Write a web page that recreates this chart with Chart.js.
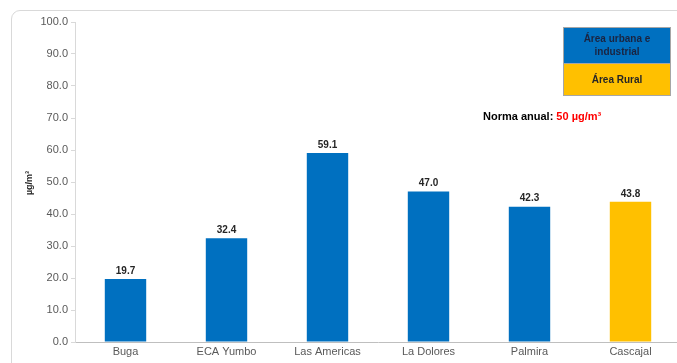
<!DOCTYPE html>
<html>
<head>
<meta charset="utf-8">
<script src="https://cdn.jsdelivr.net/npm/chart.js@4"></script>
<style>
html, body { margin: 0; padding: 0; width: 677px; height: 363px; overflow: hidden; background: #fff; }
#frame { position: absolute; left: 11px; top: 10px; width: 700px; height: 400px; border: 1px solid #d9d9d9; border-radius: 9px; }
#wrap { position: absolute; left: 0; top: 0; width: 682px; height: 363px; }
</style>
</head>
<body>
<div id="frame"></div>
<div id="wrap"><canvas id="chart"></canvas></div>
<script>
const categories = ['Buga', 'ECA Yumbo', 'Las Americas', 'La Dolores', 'Palmira', 'Cascajal'];
const values = [19.7, 32.4, 59.1, 47.0, 42.3, 43.8];
const areaType = ['urbana', 'urbana', 'urbana', 'urbana', 'urbana', 'rural'];
const yTicks = [0, 10, 20, 30, 40, 50, 60, 70, 80, 90, 100];

const BLUE = '#0070C0';
const GOLD = '#FFC000';
const FONT = '"Liberation Sans", Arial, sans-serif';

// value labels above each bar
const valueLabels = {
    id: 'valueLabels',
    afterDatasetsDraw(chart) {
        const ctx = chart.ctx;
        const meta = chart.getDatasetMeta(0);
        ctx.save();
        ctx.font = 'bold 10px ' + FONT;
        ctx.fillStyle = '#262626';
        ctx.textAlign = 'center';
        ctx.textBaseline = 'bottom';
        meta.data.forEach((bar, i) => {
            ctx.fillText(values[i].toFixed(1), bar.x, bar.y - 3);
        });
        ctx.restore();
    }
};

// axis title, legend box and annual limit note
const extras = {
    id: 'extras',
    afterDraw(chart) {
        const ctx = chart.ctx;
        ctx.save();

        // y axis title
        ctx.translate(30, 183);
        ctx.rotate(-Math.PI / 2);
        ctx.font = 'bold 9px ' + FONT;
        ctx.fillStyle = '#262626';
        ctx.textAlign = 'center';
        ctx.textBaseline = 'middle';
        ctx.fillText('µg/m³', 0, 0);
        ctx.setTransform(1, 0, 0, 1, 0, 0);

        // legend box
        ctx.fillStyle = BLUE;
        ctx.fillRect(563, 27, 108, 36);
        ctx.fillStyle = GOLD;
        ctx.fillRect(563, 63, 108, 33);
        ctx.strokeStyle = '#a6a6a6';
        ctx.lineWidth = 1;
        ctx.strokeRect(563.5, 27.5, 107, 68);
        ctx.beginPath();
        ctx.moveTo(563, 63.5);
        ctx.lineTo(671, 63.5);
        ctx.stroke();

        ctx.font = 'bold 10px ' + FONT;
        ctx.fillStyle = '#1a2440';
        ctx.textAlign = 'center';
        ctx.textBaseline = 'middle';
        ctx.fillText('Área urbana e', 617, 39);
        ctx.fillText('industrial', 617, 52);
        ctx.fillStyle = '#262626';
        ctx.fillText('Área Rural', 617, 80);

        // annual norm
        ctx.textAlign = 'left';
        ctx.font = 'bold 11px ' + FONT;
        ctx.fillStyle = '#000';
        const lead = 'Norma anual: ';
        ctx.fillText(lead, 483, 117);
        ctx.fillStyle = '#ff0000';
        ctx.fillText('50 µg/m³', 483 + ctx.measureText(lead).width, 117);

        ctx.restore();
    }
};

new Chart(document.getElementById('chart'), {
    type: 'bar',
    data: {
        labels: categories,
        datasets: [{
            data: values,
            backgroundColor: areaType.map(t => t === 'rural' ? GOLD : BLUE),
            borderWidth: 0,
            barPercentage: 0.41,
            categoryPercentage: 1
        }]
    },
    options: {
        responsive: true,
        maintainAspectRatio: false,
        animation: false,
        layout: { padding: { left: 0, top: 22, right: 1, bottom: 0 } },
        plugins: {
            legend: { display: false },
            tooltip: { enabled: false }
        },
        scales: {
            x: {
                grid: { display: false, drawTicks: false },
                border: { display: true, color: '#bfbfbf' },
                ticks: { color: '#595959', font: { family: FONT, size: 11 }, padding: 3, maxRotation: 0 },
                afterFit(scale) { scale.height = 21; }
            },
            y: {
                min: 0,
                max: 100,
                afterBuildTicks(scale) { scale.ticks = yTicks.map(v => ({ value: v })); },
                grid: { drawOnChartArea: false, drawTicks: true, tickLength: 4, color: '#d9d9d9' },
                border: { display: true, color: '#d9d9d9' },
                ticks: {
                    color: '#595959',
                    font: { family: FONT, size: 11 },
                    padding: 3,
                    callback: v => v.toFixed(1)
                },
                afterFit(scale) { scale.width = 75; }
            }
        }
    },
    plugins: [valueLabels, extras]
});
</script>
</body>
</html>
